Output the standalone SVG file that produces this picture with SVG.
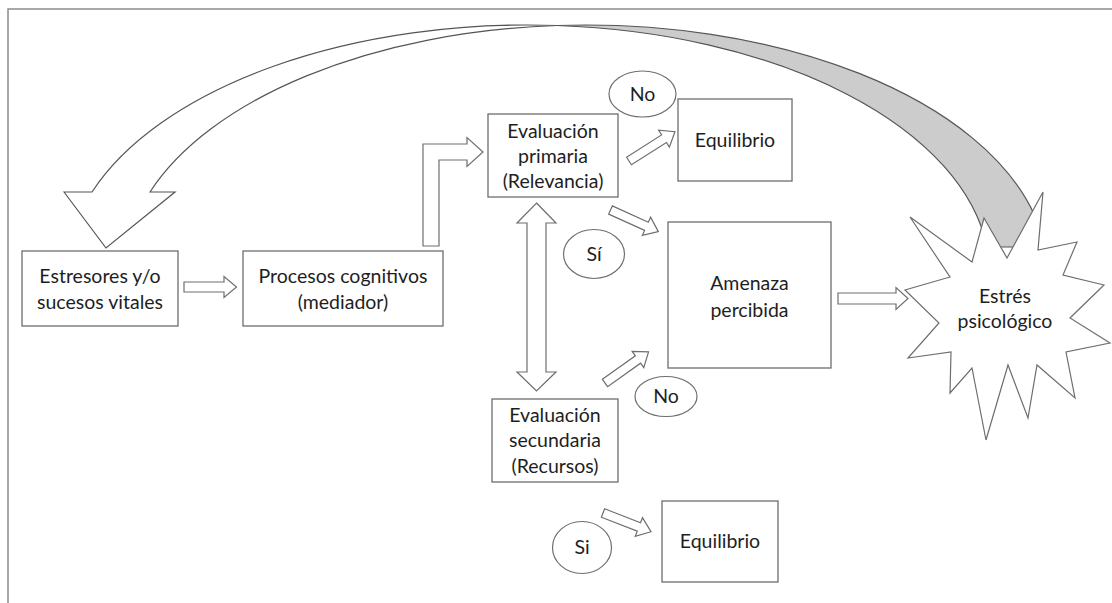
<svg xmlns="http://www.w3.org/2000/svg" width="1112" height="603" viewBox="0 0 1112 603">
  <style>
    .box { fill: #ffffff; stroke: #6e6e6e; stroke-width: 1.3; }
    .oval { fill: #ffffff; stroke: #6e6e6e; stroke-width: 1.2; }
    .arrow { fill: #ffffff; stroke: #6e6e6e; stroke-width: 1.2; stroke-linejoin: miter; }
    .frame { fill: none; stroke: #8c8c8c; stroke-width: 1.5; }
    .label { font-family: Lato, "Liberation Sans", sans-serif; font-size: 19.5px; fill: #1e1e1e; text-anchor: middle; }
    .band-front { fill: #ffffff; stroke: #555555; stroke-width: 1.2; }
    .band-back { fill: #cccccc; stroke: #555555; stroke-width: 1.2; }
  </style>

  <!-- page frame -->
  <path class="frame" d="M8,603 V9 H1112"/>

  <!-- connectors -->
  <g id="connectors">
    <!-- curved feedback arrow: back face (grey, tucked under the burst) then front face with head -->
    <path class="band-back" d="M557,25.5 A462,250 0 0 1 1034.5,215 L1030,247 L987,247 A462,250 0 0 0 557,25.5 Z"/>
    <path class="band-front" d="M64,192 L106,248 L175,192 L150,192 A462,250 0 0 1 557,25.5 A462,250 0 0 0 92,192 Z"/>

    <!-- estresores -> procesos -->
    <path class="arrow" d="M184,282 H224 V276.5 L236.5,287 L224,297.5 V292 H184 Z"/>
    <!-- procesos -> evaluación primaria (bent) -->
    <path class="arrow" d="M423,246 V144 H467 V137.5 L483,152 L467,166.5 V160 H439 V246 Z"/>
    <!-- primaria <-> secundaria -->
    <path class="arrow" d="M536.5,203 L556,223 H546 V372 H556 L536.5,391 L517,372 H527 V223 H517 Z"/>
    <!-- primaria -> equilibrio (No) -->
    <path class="arrow" transform="translate(629,161) rotate(-32.5)" d="M0,-4.5 H41.5 V-10 L54.5,0 L41.5,10 V4.5 H0 Z"/>
    <!-- primaria -> amenaza (Sí) -->
    <path class="arrow" transform="translate(610.5,210) rotate(24.4)" d="M0,-4.5 H39.5 V-10 L52.5,0 L39.5,10 V4.5 H0 Z"/>
    <!-- secundaria -> amenaza (No) -->
    <path class="arrow" transform="translate(605,383) rotate(-35.5)" d="M0,-4.5 H40.5 V-10 L53.5,0 L40.5,10 V4.5 H0 Z"/>
    <!-- secundaria -> equilibrio (Si) -->
    <path class="arrow" transform="translate(603,513) rotate(21.3)" d="M0,-4.5 H38.5 V-10 L51.5,0 L38.5,10 V4.5 H0 Z"/>
    <!-- amenaza -> estrés -->
    <path class="arrow" d="M838,293 H896 V287.5 L908,298.5 L896,309.5 V304 H838 Z"/>
  </g>

  <g id="estresores">
    <rect class="box" x="22" y="251" width="156" height="75"/>
    <text class="label" x="100" y="282.5">Estresores y/o</text>
    <text class="label" x="100" y="308.5">sucesos vitales</text>
  </g>

  <g id="procesos">
    <rect class="box" x="243" y="251" width="200" height="75"/>
    <text class="label" x="343" y="282.5">Procesos cognitivos</text>
    <text class="label" x="343" y="308.5">(mediador)</text>
  </g>

  <g id="eval-primaria">
    <rect class="box" x="488" y="114" width="130" height="83"/>
    <text class="label" x="553" y="138">Evaluación</text>
    <text class="label" x="553" y="163">primaria</text>
    <text class="label" x="553" y="188">(Relevancia)</text>
  </g>

  <g id="no-primaria">
    <ellipse class="oval" cx="642.5" cy="94" rx="33.5" ry="23"/>
    <text class="label" x="642.5" y="100.5">No</text>
  </g>

  <g id="equilibrio-1">
    <rect class="box" x="678" y="99" width="114" height="82"/>
    <text class="label" x="735" y="146.5">Equilibrio</text>
  </g>

  <g id="si-primaria">
    <ellipse class="oval" cx="594" cy="254" rx="30.5" ry="24.5"/>
    <text class="label" x="594" y="260.5">Sí</text>
  </g>

  <g id="amenaza">
    <rect class="box" x="668" y="222" width="163" height="146"/>
    <text class="label" x="749.5" y="290">Amenaza</text>
    <text class="label" x="749.5" y="316.5">percibida</text>
  </g>

  <g id="estres">
    <polygon fill="#ffffff" stroke="#6e6e6e" stroke-width="1.2" stroke-linejoin="miter"
      points="910,217 972,262 984,218 1007,258 1043,192 1038,250 1077,242 1063,275 1104,285 1070,318 1110,343 1066,352 1075,398 1037,365 1028,418 1008,365 986,440 972,368 950,393 951,352 908,358 939,323 905,290 950,277"/>
    <text class="label" x="1005" y="302.5">Estrés</text>
    <text class="label" x="1005" y="327.5">psicológico</text>
  </g>

  <g id="no-secundaria">
    <ellipse class="oval" cx="666" cy="396.5" rx="31" ry="20"/>
    <text class="label" x="666" y="403">No</text>
  </g>

  <g id="eval-secundaria">
    <rect class="box" x="492" y="399" width="126" height="83"/>
    <text class="label" x="555" y="421.5">Evaluación</text>
    <text class="label" x="555" y="446.5">secundaria</text>
    <text class="label" x="555" y="473">(Recursos)</text>
  </g>

  <g id="si-secundaria">
    <ellipse class="oval" cx="582" cy="547.5" rx="29.5" ry="26"/>
    <text class="label" x="582" y="554">Si</text>
  </g>

  <g id="equilibrio-2">
    <rect class="box" x="662" y="501" width="116" height="81"/>
    <text class="label" x="720" y="548">Equilibrio</text>
  </g>
</svg>
